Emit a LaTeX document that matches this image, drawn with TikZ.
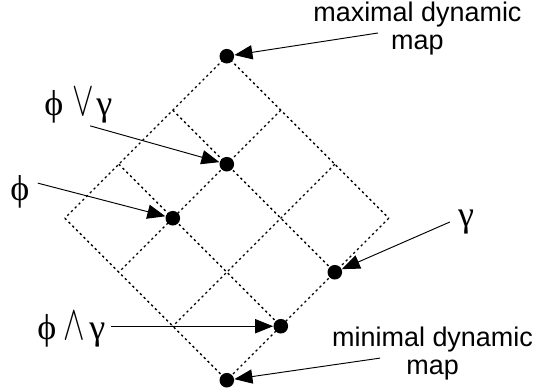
\documentclass[tikz,border=0pt]{standalone}
\usepackage{fontspec}
\usepackage{graphicx}
\setmainfont{Liberation Sans}
\newfontfamily\greekfont{Liberation Serif}
\usetikzlibrary{arrows.meta}

\tikzset{
  lattice/.style={line width=0.7pt, dash pattern=on 1.2pt off 1.6pt},
  mapdot/.style={circle, fill=black, inner sep=0pt, minimum size=0.27cm},
  pointer/.style={line width=0.5pt, -{Triangle[length=9.5pt,width=7.5pt]}},
  maptext/.style={align=center, font=\fontsize{14.2}{14.9}\selectfont},
  lattext/.style={font=\greekfont\fontsize{19}{20}\selectfont, inner sep=0pt},
}
\newcommand{\mapor}{\scalebox{0.82}[1.25]{\fontsize{20}{20}\selectfont$\vee$}}
\newcommand{\mapand}{\scalebox{0.82}[1.25]{\fontsize{20}{20}\selectfont$\wedge$}}

\begin{document}
\begin{tikzpicture}
  \useasboundingbox (0,0) rectangle (9.907,7.241);

  % Lattice grid
  \draw[lattice] (4.2,6.2) -- (7.2,3.2);
  \draw[lattice] (3.2,5.2) -- (6.2,2.2);
  \draw[lattice] (2.2,4.2) -- (5.2,1.2);
  \draw[lattice] (1.2,3.2) -- (4.2,0.2);
  \draw[lattice] (4.2,6.2) -- (1.2,3.2);
  \draw[lattice] (5.2,5.2) -- (2.2,2.2);
  \draw[lattice] (6.2,4.2) -- (3.2,1.2);
  \draw[lattice] (7.2,3.2) -- (4.2,0.2);

  % Dynamic maps
  \node[mapdot] (top) at (4.2,6.2) {};
  \node[mapdot] (join) at (4.2,4.2) {};
  \node[mapdot] (phi) at (3.2,3.2) {};
  \node[mapdot] (gam) at (6.2,2.2) {};
  \node[mapdot] (meet) at (5.2,1.2) {};
  \node[mapdot] (bot) at (4.2,0.2) {};

  % Labels
  \node[maptext] (maxlabel) at (7.73,6.71) {maximal dynamic\\map};
  \node[maptext] (minlabel) at (8.01,0.69) {minimal dynamic\\map};
  \node[lattext] (joinlabel) at (1.45,5.28) {ϕ\hspace{5pt}\mapor\hspace{1pt}γ};
  \node[lattext] (philabel) at (0.37,3.69) {ϕ};
  \node[lattext] (gamlabel) at (8.63,3.13) {γ};
  \node[lattext] (meetlabel) at (1.32,1.13) {ϕ\hspace{4pt}\mapand\hspace{2pt}γ};

  % Arrows
  \coordinate (maxtail) at (7.0,6.63);
  \coordinate (jointail) at (1.67,4.91);
  \coordinate (phitail) at (0.70,3.85);
  \coordinate (gamtail) at (8.33,3.13);
  \coordinate (meettail) at (2.06,1.2);
  \coordinate (mintail) at (7.04,0.61);
  \draw[pointer] (maxtail) -- (top);
  \draw[pointer] (jointail) -- (join);
  \draw[pointer] (phitail) -- (phi);
  \draw[pointer] (gamtail) -- (gam);
  \draw[pointer] (meettail) -- (meet);
  \draw[pointer] (mintail) -- (bot);
\end{tikzpicture}
\end{document}
